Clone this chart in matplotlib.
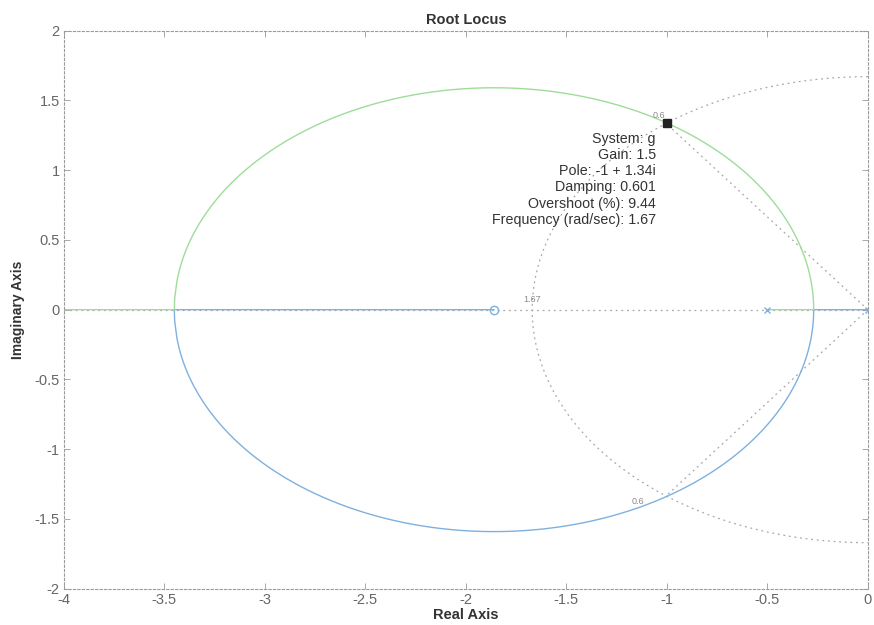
import numpy as np
import matplotlib
matplotlib.use("Agg")
import matplotlib.pyplot as plt

plt.rcParams['font.family'] = ['Liberation Sans', 'DejaVu Sans']
plt.rcParams['axes.unicode_minus'] = False

# Open-loop system g(s) = (s + 1.86) / (s (s + 0.5))
num = [1.0, 1.86]
den = [1.0, 0.5, 0.0]

# Selected point on the locus (data tip)
tip_gain = 1.5
tip_pole = (-1.0, 1.34)
tip_damping = 0.601
tip_overshoot = 9.44
tip_freq = 1.67

x_ticks = [-4, -3.5, -3, -2.5, -2, -1.5, -1, -0.5, 0]
y_ticks = [-2, -1.5, -1, -0.5, 0, 0.5, 1, 1.5, 2]

blue = '#7fb0de'
green = '#9fdc9a'
grid_c = '#a8a8a8'

zeros_ = np.roots(num)
poles_ = np.roots(den)

# Gain sweep, refined around the break-away / break-in points
z = num[1]
p = den[1]
s_break = np.array([-z + np.sqrt(z * z - p * z), -z - np.sqrt(z * z - p * z)])
k_break = -s_break * (s_break + p) / (s_break + z)
gains = np.unique(np.concatenate([[0.0], np.logspace(-5, 4, 6000), k_break]))

branch_a = []  # starts at s = 0, ends at the finite zero
branch_b = []  # starts at s = -p, goes to -infinity
for k in gains:
    poly = np.polyadd(den, k * np.array([0.0] + num))
    r = np.roots(poly)
    if abs(r[0].imag) < 1e-9:
        r = np.sort(r.real).astype(complex)
        branch_b.append(r[0])
        branch_a.append(r[1])
    else:
        lo = r[np.argmin(r.imag)]
        hi = r[np.argmax(r.imag)]
        branch_a.append(lo)
        branch_b.append(hi)
branch_a = np.array(branch_a)
branch_b = np.array(branch_b)

fig = plt.figure(figsize=(8.74, 6.25), dpi=100)
ax = fig.add_axes([0.073, 0.058, 0.920, 0.893])

# Constant-wn circle and constant-damping rays for the selected pole
th = np.linspace(np.pi / 2, 3 * np.pi / 2, 400)
ax.plot(tip_freq * np.cos(th), tip_freq * np.sin(th), ls=(0, (1.5, 3)), color=grid_c, lw=0.9, zorder=1)
wd = np.sqrt(1 - tip_damping ** 2)
for sgn in (1, -1):
    ax.plot([0, -tip_freq * tip_damping], [0, sgn * tip_freq * wd], ls=(0, (1.5, 3)),
            color=grid_c, lw=0.9, zorder=1)
ax.plot([-4, 0], [0, 0], ls=(0, (1.5, 3)), color=grid_c, lw=0.9, zorder=1)

ax.plot(branch_a.real, branch_a.imag, color=blue, lw=1.0, zorder=2)
ax.plot(branch_b.real, branch_b.imag, color=green, lw=1.0, zorder=2)

ax.plot(zeros_.real, zeros_.imag, 'o', mfc='none', mec=blue, ms=6, mew=1.0, zorder=3)
ax.plot(poles_.real, poles_.imag, 'x', color=blue, ms=5, mew=1.0, zorder=3)

ax.plot(tip_pole[0], tip_pole[1], 's', color='#222222', ms=6, zorder=4)

lab = dict(fontsize=6.5, color='#8a8a8a')
ax.annotate('0.6', (-tip_freq * tip_damping, tip_freq * wd), xytext=(-1, 3),
            textcoords='offset pixels', ha='right', va='bottom', **lab)
ax.annotate('0.6', (-tip_freq * tip_damping, -tip_freq * wd), xytext=(-22, -6),
            textcoords='offset pixels', ha='right', va='center', **lab)
ax.annotate('%.3g' % tip_freq, (-tip_freq, 0), xytext=(0, 6),
            textcoords='offset pixels', ha='center', va='bottom', **lab)

tip_text = ('System: g\nGain: %g\nPole: %g + %gi\nDamping: %g\nOvershoot (%%): %g\n'
            'Frequency (rad/sec): %g') % (tip_gain, tip_pole[0], tip_pole[1],
                                          tip_damping, tip_overshoot, tip_freq)
ax.annotate(tip_text, tip_pole, xytext=(-11, -9), textcoords='offset pixels',
            ha='right', va='top', multialignment='right', linespacing=1.2,
            fontsize=10.3, color='#333333', zorder=5)

ax.set_xlim(-4, 0)
ax.set_ylim(-2, 2)
ax.set_xticks(x_ticks)
ax.set_xticklabels(['%g' % v for v in x_ticks])
ax.set_yticks(y_ticks)
ax.set_yticklabels(['%g' % v for v in y_ticks])
ax.tick_params(direction='in', length=4, width=0.6, colors='#9a9a9a', labelcolor='#666666',
               labelsize=10.5, top=True, right=True, pad=3)
for sp in ax.spines.values():
    sp.set_linestyle((0, (2, 2)))
    sp.set_color('#9a9a9a')
    sp.set_linewidth(0.8)

ax.set_title('Root Locus', fontsize=10.5, fontweight='bold', color='#333333', pad=5)
ax.set_xlabel('Real Axis', fontsize=10.5, fontweight='bold', color='#333333', labelpad=1)
ax.set_ylabel('Imaginary Axis', fontsize=10, fontweight='bold', color='#333333', labelpad=7)

fig.savefig('out.png', dpi=100)
